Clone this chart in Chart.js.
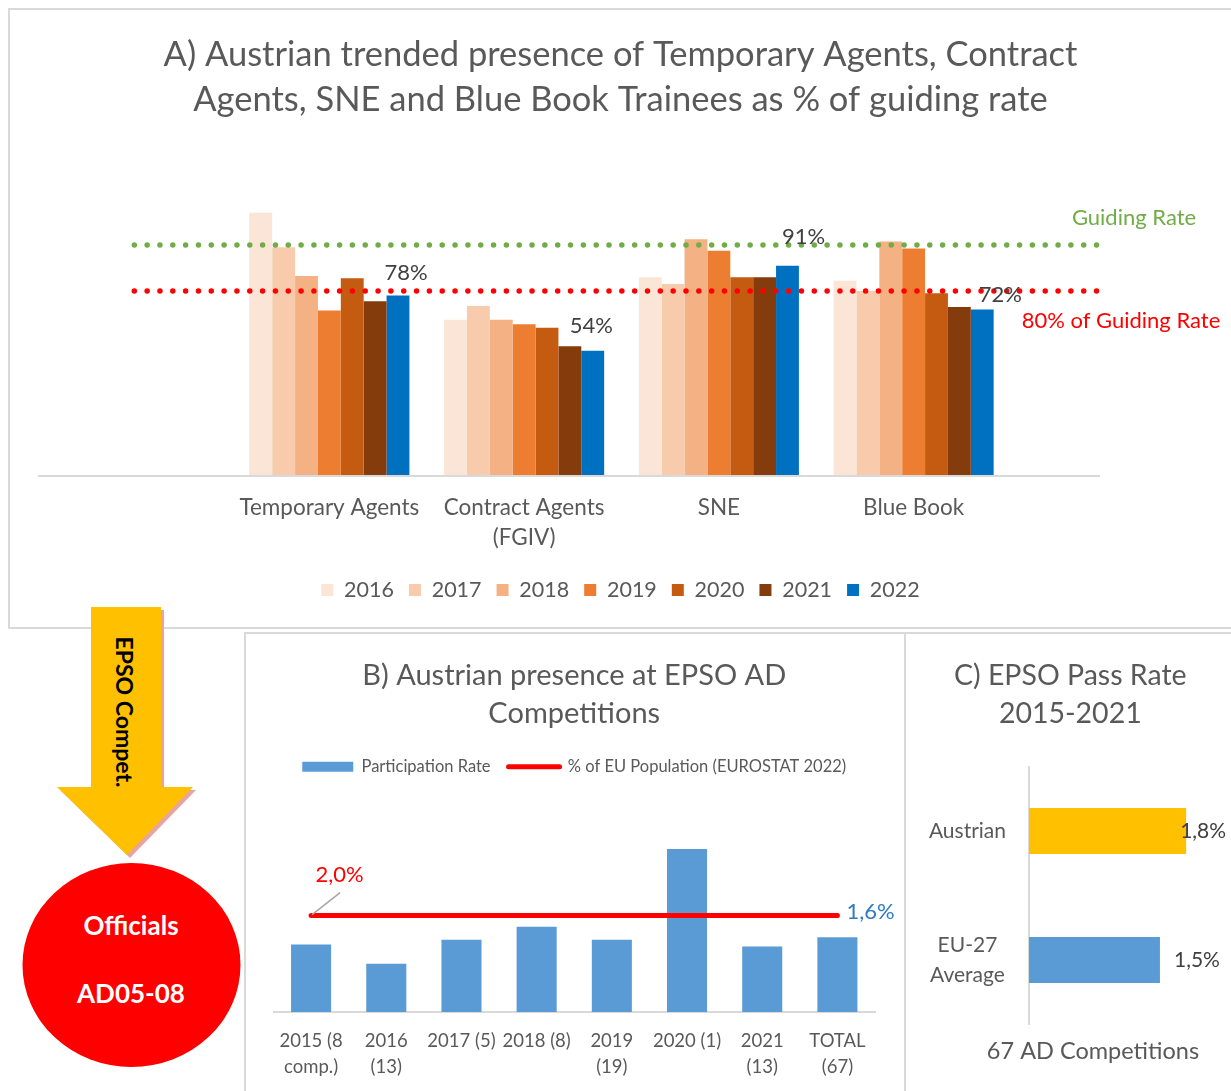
<!DOCTYPE html>
<html><head><meta charset="utf-8">
<script src="https://cdn.jsdelivr.net/npm/chart.js@4/dist/chart.umd.min.js"></script>
<style>
html,body{margin:0;padding:0;background:#fff;width:1231px;height:1091px;overflow:hidden;position:relative;font-family:Lato,sans-serif;}
.panel{position:absolute;border:2px solid #d9d9d9;box-sizing:border-box;}
canvas{position:absolute;}
</style></head><body>
<div class="panel" style="left:8px;top:8px;width:1240px;height:621px"></div>
<div class="panel" style="left:244px;top:632px;width:662px;height:480px"></div>
<div class="panel" style="left:904px;top:632px;width:340px;height:480px"></div>
<svg style="position:absolute;left:0;top:0" width="244" height="1091">
  <polygon points="94,610 164,610 164,790 196,790 130,858 60,790 94,790" fill="#e8a3a3"/>
  <polygon points="91,607 161,607 161,787 193,787 127,855 57,787 91,787" fill="#ffc000"/>
  <text transform="translate(125,712) rotate(90)" text-anchor="middle" dominant-baseline="central" font-family="Lato" font-weight="bold" font-size="23" fill="#000">EPSO Compet.</text>
  <ellipse cx="131.5" cy="965" rx="109" ry="102" fill="#ff0000"/>
  <text x="131" y="925" text-anchor="middle" dominant-baseline="central" font-family="Lato" font-weight="bold" font-size="26" fill="#fff">Officials</text>
  <text x="131" y="993" text-anchor="middle" dominant-baseline="central" font-family="Lato" font-weight="bold" font-size="26" fill="#fff">AD05-08</text>
</svg>
<canvas id="cA" width="1221" height="616" style="left:10px;top:10px"></canvas>
<canvas id="cB" width="656" height="457" style="left:246px;top:634px"></canvas>
<canvas id="cC" width="324" height="457" style="left:907px;top:634px"></canvas>
<script>
// ---------- Chart A data ----------
const categoriesA = ['Temporary Agents', ['Contract Agents', '(FGIV)'], 'SNE', 'Blue Book'];
const yearsA = ['2016', '2017', '2018', '2019', '2020', '2021', '2022'];
const s2016 = [114, 67.5, 86, 84.5];
const s2017 = [99, 73.5, 83, 80];
const s2018 = [86.5, 67.5, 102.5, 101.5];
const s2019 = [71.5, 65.5, 97.5, 98.5];
const s2020 = [85.5, 64, 86, 79];
const s2021 = [75.5, 56, 86, 73];
const s2022 = [78, 54, 91, 72];
const guideLevels = [100, 80];
const guideNames = ['Guiding Rate', '80% of Guiding Rate'];

// ---------- Chart B data ----------
const categoriesB = [['2015 (8', 'comp.)'], ['2016', '(13)'], '2017 (5)', '2018 (8)', ['2019', '(19)'], '2020 (1)', ['2021', '(13)'], ['TOTAL', '(67)']];
const participationRate = [1.4, 1.0, 1.5, 1.77, 1.5, 3.38, 1.36, 1.55];
const euPopulationShare = [2.0, 2.0, 2.0, 2.0, 2.0, 2.0, 2.0, 2.0];

// ---------- Chart C data ----------
const categoriesC = ['Austrian', ['EU-27', 'Average']];
const passRate = [1.8, 1.5];

Chart.defaults.font.family = 'Lato';
Chart.defaults.color = '#595959';

const seriesA = [s2016, s2017, s2018, s2019, s2020, s2021, s2022];
const colorsA = ['#fbe5d6', '#f8cbad', '#f4b183', '#ed7d31', '#c55a11', '#843c0c', '#0070c0'];
const pct = v => Math.round(v) + '%';
const pctComma = v => v.toFixed(1).replace('.', ',') + '%';

const plugA = {
  id: 'plugA',
  beforeDatasetsDraw(chart) {
    const ctx = chart.ctx, y0 = chart.scales.y.getPixelForValue(0);
    ctx.save();
    ctx.strokeStyle = '#d9d9d9'; ctx.lineWidth = 2;
    ctx.beginPath(); ctx.moveTo(28, y0 + 1); ctx.lineTo(1090, y0 + 1); ctx.stroke();
    ctx.restore();
  },
  afterDatasetsDraw(chart) {
    const ctx = chart.ctx, ys = chart.scales.y;
    const lineColors = ['#70ad47', '#ff0000'];
    ctx.save();
    guideLevels.forEach((v, i) => {
      const y = ys.getPixelForValue(v);
      ctx.setLineDash([0, 12.83]); ctx.lineCap = 'round'; ctx.lineWidth = 5.5;
      ctx.strokeStyle = lineColors[i];
      ctx.beginPath(); ctx.moveTo(124.3, y); ctx.lineTo(1087.5, y); ctx.stroke();
    });
    ctx.setLineDash([]);
    ctx.font = '22px Lato'; ctx.textAlign = 'center'; ctx.textBaseline = 'middle';
    ctx.fillStyle = '#70ad47'; ctx.fillText(guideNames[0], 1124, ys.getPixelForValue(guideLevels[0]) - 27);
    ctx.fillStyle = '#ff0000'; ctx.fillText(guideNames[1], 1111, ys.getPixelForValue(guideLevels[1]) + 30);
    // data labels for last series
    const meta = chart.getDatasetMeta(6);
    const dx = [8, -1.5, 16, 18], dy = [23, 25, 29, 14];
    ctx.fillStyle = '#404040';
    meta.data.forEach((bar, i) => {
      ctx.fillText(pct(s2022[i]), bar.x + dx[i], bar.y - dy[i]);
    });
    ctx.restore();
  }
};

new Chart(document.getElementById('cA'), {
  type: 'bar',
  data: {
    labels: categoriesA,
    datasets: yearsA.map((y, i) => ({
      label: y, data: seriesA[i], backgroundColor: colorsA[i], borderWidth: 0,
      categoryPercentage: 0.822, barPercentage: 1
    }))
  },
  options: {
    responsive: false, animation: false, devicePixelRatio: 1,
    layout: { padding: { left: 100, right: 100, top: 0, bottom: 15.25 } },
    scales: {
      x: {
        grid: { display: false, drawTicks: false }, border: { display: false },
        ticks: { color: '#595959', font: { size: 22.5, lineHeight: '30px' }, padding: 18, maxRotation: 0, autoSkip: false },
        afterFit: s => { s.height = 89.25; }
      },
      y: {
        display: true, min: 0, max: 125,
        grid: { display: false, drawTicks: false }, border: { display: false },
        ticks: { display: false },
        afterFit: s => { s.width = 122; }
      },
      yRight: {
        type: 'linear', position: 'right', display: true,
        grid: { display: false, drawTicks: false }, border: { display: false },
        ticks: { display: false },
        afterFit: s => { s.width = 120; }
      }
    },
    plugins: {
      title: {
        display: true,
        text: ['A) Austrian trended presence of Temporary Agents, Contract', 'Agents, SNE and Blue Book Trainees as % of guiding rate'],
        color: '#595959', font: { size: 34.5, weight: 'normal', lineHeight: '45px' },
        padding: { top: 22.5, bottom: 65 }
      },
      legend: {
        position: 'bottom',
        labels: { boxWidth: 12, boxHeight: 12, padding: 15, color: '#595959', font: { size: 21.5 } }
      },
      tooltip: { enabled: false }
    }
  },
  plugins: [plugA]
});

// ---------- Chart B ----------
const plugB = {
  id: 'plugB',
  afterDatasetsDraw(chart) {
    const ctx = chart.ctx;
    const line = chart.getDatasetMeta(1).data;
    const bars = chart.getDatasetMeta(0).data;
    const p0 = line[0], pN = line[line.length - 1];
    ctx.save();
    ctx.strokeStyle = '#a6a6a6'; ctx.lineWidth = 1.5;
    ctx.beginPath(); ctx.moveTo(p0.x + 1, p0.y - 1); ctx.lineTo(p0.x + 29, p0.y - 23); ctx.stroke();
    ctx.font = '22px Lato'; ctx.textBaseline = 'middle'; ctx.textAlign = 'center';
    ctx.fillStyle = '#ff0000';
    ctx.fillText(pctComma(euPopulationShare[0]), p0.x + 28.5, p0.y - 41);
    ctx.textAlign = 'left'; ctx.fillStyle = '#2e7bc4';
    const last = participationRate.length - 1;
    ctx.fillText(pctComma(participationRate[last]), bars[last].x + 9, pN.y - 4);
    ctx.restore();
  }
};

new Chart(document.getElementById('cB'), {
  type: 'bar',
  data: {
    labels: categoriesB,
    datasets: [
      { type: 'bar', label: 'Participation Rate', data: participationRate, backgroundColor: '#5b9bd5', borderWidth: 0, categoryPercentage: 1, barPercentage: 0.533, order: 1 },
      { type: 'line', label: '% of EU Population (EUROSTAT 2022)', data: euPopulationShare, borderColor: '#ff0000', backgroundColor: '#ff0000', borderWidth: 5, pointRadius: 0, borderCapStyle: 'round', order: 0 }
    ]
  },
  options: {
    responsive: false, animation: false, devicePixelRatio: 1,
    layout: { padding: { left: 27.5, right: 27, top: 0, bottom: 0 } },
    scales: {
      x: {
        grid: { display: true, drawOnChartArea: false, drawTicks: false },
        border: { display: true, color: '#d9d9d9', width: 2 },
        ticks: { color: '#595959', font: { size: 18.5, lineHeight: '26px' }, padding: 16, maxRotation: 0, autoSkip: false },
        afterFit: s => { s.height = 79; }
      },
      y: { display: false, min: 0, max: 4.71 }
    },
    plugins: {
      title: {
        display: true, text: ['B) Austrian presence at EPSO AD', 'Competitions'],
        color: '#595959', font: { size: 29, weight: 'normal', lineHeight: '38px' },
        padding: { top: 23, bottom: 7.5 }
      },
      legend: {
        position: 'top',
        labels: {
          usePointStyle: true, pointStyleWidth: 51, boxHeight: 10, padding: 18, color: '#595959', font: { size: 16.5 },
          sort: (a, b) => a.datasetIndex - b.datasetIndex,
          generateLabels(chart) {
            const items = Chart.defaults.plugins.legend.labels.generateLabels(chart);
            items.forEach(it => {
              if (it.datasetIndex === 0) {
                it.pointStyle = 'rect'; it.lineWidth = 0; it.fillStyle = '#5b9bd5';
              } else {
                it.pointStyle = 'line'; it.lineCap = 'round'; it.lineWidth = 5; it.strokeStyle = '#ff0000';
              }
            });
            return items;
          }
        }
      },
      tooltip: { enabled: false }
    }
  },
  plugins: [plugB]
});

// ---------- Chart C ----------
const plugC = {
  id: 'plugC',
  afterDatasetsDraw(chart) {
    const ctx = chart.ctx;
    const bars = chart.getDatasetMeta(0).data;
    const dx = [-6, 14];
    ctx.save();
    ctx.font = '21px Lato'; ctx.textBaseline = 'middle'; ctx.textAlign = 'left'; ctx.fillStyle = '#404040';
    bars.forEach((b, i) => ctx.fillText(pctComma(passRate[i]), b.x + dx[i], b.y));
    ctx.fillStyle = '#595959'; ctx.font = '23.5px Lato'; ctx.textAlign = 'center';
    ctx.fillText('67 AD Competitions', 186, 417);
    ctx.restore();
  }
};

new Chart(document.getElementById('cC'), {
  type: 'bar',
  data: {
    labels: categoriesC,
    datasets: [{ label: 'EPSO Pass Rate', data: passRate, backgroundColor: ['#ffc000', '#5b9bd5'], borderWidth: 0, categoryPercentage: 1, barPercentage: 0.357 }]
  },
  options: {
    indexAxis: 'y',
    responsive: false, animation: false, devicePixelRatio: 1,
    layout: { padding: { left: 20, right: 17.4, top: 0, bottom: 66.5 } },
    scales: {
      x: { display: false, min: 0, max: 2.0 },
      y: {
        grid: { display: true, drawOnChartArea: false, drawTicks: false },
        border: { display: true, color: '#d9d9d9', width: 2 },
        ticks: { crossAlign: 'center', padding: 23, color: '#595959', font: { size: 21, lineHeight: '30px' } },
        afterFit: s => { s.width = 102; }
      },
      yRight: {
        type: 'category', position: 'right', display: true,
        grid: { display: false, drawTicks: false }, border: { display: false },
        ticks: { display: false },
        afterFit: s => { s.width = 10; }
      }
    },
    plugins: {
      title: {
        display: true, text: ['C) EPSO Pass Rate', '2015-2021'],
        color: '#595959', font: { size: 28.5, weight: 'normal', lineHeight: '38px' },
        padding: { top: 23, bottom: 33.5 }
      },
      legend: { display: false },
      tooltip: { enabled: false }
    }
  },
  plugins: [plugC]
});
</script>
</body></html>
